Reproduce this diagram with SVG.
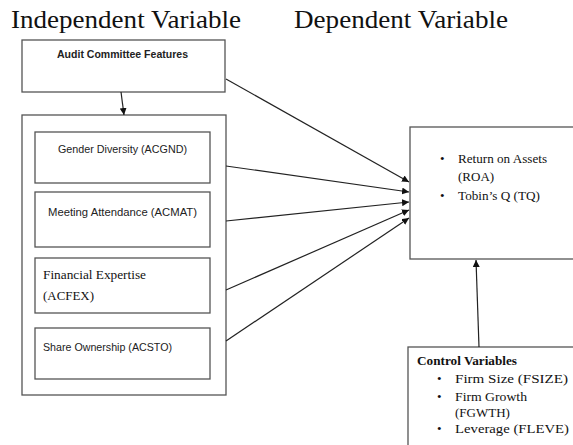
<svg xmlns="http://www.w3.org/2000/svg" width="573" height="445" viewBox="0 0 573 445">
<defs>
<style>
.box{fill:#fff;stroke:#555;stroke-width:1.3}
.ser{font-family:'Liberation Serif','Times New Roman',serif;fill:#111}
.sans{font-family:'Liberation Sans',Arial,sans-serif;fill:#222}
.title{font-size:26px}
.ln{stroke:#222;stroke-width:1.2;fill:none}
</style>
<marker id="ah" viewBox="0 0 10 10" refX="10" refY="5" markerWidth="7" markerHeight="7" orient="auto" markerUnits="userSpaceOnUse">
<path d="M0,0 L10,5 L0,10 z" fill="#111"/>
</marker>
</defs>
<rect width="573" height="445" fill="#fff"/>
<text class="ser title" x="11" y="28" textLength="230" lengthAdjust="spacingAndGlyphs">Independent Variable</text>
<text class="ser title" x="294" y="28" textLength="214" lengthAdjust="spacingAndGlyphs">Dependent Variable</text>

<g id="audit">
<rect class="box" x="22" y="40" width="203" height="52"/>
<text class="sans" x="57" y="58" font-size="11" font-weight="bold" textLength="131" lengthAdjust="spacingAndGlyphs">Audit Committee Features</text>
</g>
<g id="group">
<rect class="box" x="22" y="115" width="204" height="280"/>
</g>
<g id="gender">
<rect class="box" x="35" y="132" width="175" height="51"/>
<text class="sans" x="58" y="153" font-size="11" textLength="129" lengthAdjust="spacingAndGlyphs">Gender Diversity (ACGND)</text>
</g>
<g id="meeting">
<rect class="box" x="35" y="192" width="175" height="55"/>
<text class="sans" x="48" y="216" font-size="11" textLength="149" lengthAdjust="spacingAndGlyphs">Meeting Attendance (ACMAT)</text>
</g>
<g id="financial">
<rect class="box" x="35" y="258" width="175" height="55"/>
<text class="ser" x="43" y="279" font-size="13" textLength="103" lengthAdjust="spacingAndGlyphs">Financial Expertise</text>
<text class="ser" x="43" y="300" font-size="13" textLength="51" lengthAdjust="spacingAndGlyphs">(ACFEX)</text>
</g>
<g id="share">
<rect class="box" x="35" y="328" width="175" height="51"/>
<text class="sans" x="43" y="351" font-size="11" textLength="129" lengthAdjust="spacingAndGlyphs">Share Ownership (ACSTO)</text>
</g>
<g id="dependent">
<rect class="box" x="410" y="127" width="170" height="132"/>
<text class="ser" x="440" y="163" font-size="13">•</text>
<text class="ser" x="458" y="163" font-size="13" textLength="89" lengthAdjust="spacingAndGlyphs">Return on Assets</text>
<text class="ser" x="458" y="181" font-size="13">(ROA)</text>
<text class="ser" x="440" y="200" font-size="13">•</text>
<text class="ser" x="458" y="200" font-size="13" textLength="82" lengthAdjust="spacingAndGlyphs">Tobin’s Q (TQ)</text>
</g>
<g id="control">
<rect class="box" x="408" y="347" width="172" height="110"/>
<text class="ser" x="417" y="365" font-size="13" font-weight="bold" textLength="100" lengthAdjust="spacingAndGlyphs">Control Variables</text>
<text class="ser" x="437" y="383" font-size="13">•</text>
<text class="ser" x="455" y="383" font-size="13" textLength="113" lengthAdjust="spacingAndGlyphs">Firm Size (FSIZE)</text>
<text class="ser" x="437" y="401" font-size="13">•</text>
<text class="ser" x="455" y="401" font-size="13" textLength="72" lengthAdjust="spacingAndGlyphs">Firm Growth</text>
<text class="ser" x="455" y="417" font-size="13">(FGWTH)</text>
<text class="ser" x="437" y="433" font-size="13">•</text>
<text class="ser" x="455" y="433" font-size="13" textLength="114" lengthAdjust="spacingAndGlyphs">Leverage (FLEVE)</text>
</g>

<g id="connectors">
<line class="ln" x1="121" y1="92" x2="124" y2="115" marker-end="url(#ah)"/>
<line class="ln" x1="226" y1="79" x2="409" y2="182" marker-end="url(#ah)"/>
<line class="ln" x1="226" y1="166" x2="409" y2="192" marker-end="url(#ah)"/>
<line class="ln" x1="226" y1="221" x2="409" y2="202" marker-end="url(#ah)"/>
<line class="ln" x1="226" y1="290" x2="409" y2="210" marker-end="url(#ah)"/>
<line class="ln" x1="226" y1="341" x2="409" y2="218" marker-end="url(#ah)"/>
<line class="ln" x1="479" y1="347" x2="476" y2="260" marker-end="url(#ah)"/>
</g>
</svg>
